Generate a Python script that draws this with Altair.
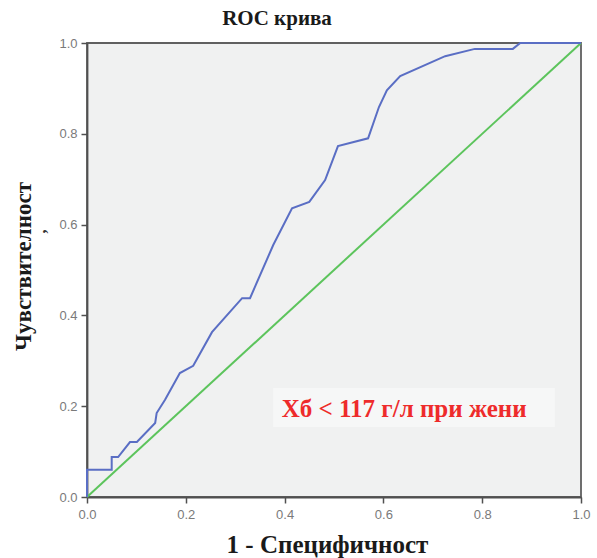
import altair as alt
import pandas as pd

# ROC curve points
fpr = [0.0, 0.0, 0.05, 0.05, 0.063, 0.087, 0.101, 0.138, 0.141, 0.158, 0.188, 0.215,
       0.253, 0.314, 0.330, 0.377, 0.415, 0.450, 0.482, 0.508, 0.569, 0.591, 0.607,
       0.634, 0.725, 0.785, 0.862, 0.877, 1.0]
tpr = [0.0, 0.06, 0.06, 0.088, 0.088, 0.121, 0.121, 0.163, 0.185, 0.214, 0.273, 0.289,
       0.363, 0.438, 0.438, 0.555, 0.636, 0.650, 0.698, 0.773, 0.790, 0.859, 0.896,
       0.927, 0.971, 0.987, 0.987, 1.0, 1.0]
diag_x = [0.0, 1.0]
diag_y = [0.0, 1.0]
ticks = [0.0, 0.2, 0.4, 0.6, 0.8, 1.0]

title_text = "ROC крива"
x_title = "1 - Специфичност"
y_title = "Чувствителност"
note_text = "Хб < 117 г/л при жени"

roc = pd.DataFrame({"x": fpr, "y": tpr, "i": list(range(len(fpr)))})
diag = pd.DataFrame({"x": diag_x, "y": diag_y, "i": [0, 1]})

W, H = 494, 454
SERIF = "Liberation Serif"
SANS = "Liberation Sans"

xs = alt.Scale(domain=[0, 1], nice=False, zero=False)
ys = alt.Scale(domain=[0, 1], nice=False, zero=False)

x_axis = alt.Axis(values=ticks, format=".1f", grid=False, tickSize=6, labelPadding=5,
                  labelFont=SANS, labelFontSize=13, labelColor="#7a7a7a",
                  domainColor="#505050", domainWidth=1.8, tickColor="#505050", tickWidth=1.5,
                  title=x_title, titleFont=SERIF, titleFontSize=25, titleFontWeight="bold",
                  titleColor="#1a1a1a", titleX=240, titleY=55, titleBaseline="alphabetic",
                  titleAlign="center", labelFlush=False)
y_axis = alt.Axis(values=ticks, format=".1f", grid=False, tickSize=6, labelPadding=4,
                  labelFont=SANS, labelFontSize=13, labelColor="#7a7a7a",
                  domainColor="#505050", domainWidth=1.8, tickColor="#505050", tickWidth=1.5,
                  title=y_title, titleFont=SERIF, titleFontSize=23, titleFontWeight="bold",
                  titleColor="#1a1a1a", titleX=-64, titleY=223, titleBaseline="middle",
                  titleAlign="center", titleAngle=270, labelFlush=False)

diag_line = alt.Chart(diag).mark_line(color="#5cc45c", strokeWidth=2).encode(
    x=alt.X("x:Q", scale=xs, axis=x_axis),
    y=alt.Y("y:Q", scale=ys, axis=y_axis),
    order="i:O",
)

roc_line = alt.Chart(roc).mark_line(color="#5a6ec4", strokeWidth=2).encode(
    x=alt.X("x:Q", scale=xs),
    y=alt.Y("y:Q", scale=ys),
    order="i:O",
)

box = alt.Chart(pd.DataFrame({"x": [0.377], "x2": [0.947], "y": [0.240], "y2": [0.154]})).mark_rect(
    fill="#f6f7f7"
).encode(x="x:Q", x2="x2:Q", y="y:Q", y2="y2:Q")

note = alt.Chart(pd.DataFrame({"x": [0.642], "y": [0.194], "t": [note_text]})).mark_text(
    font=SERIF, fontSize=25, fontWeight="bold", color="#ee2b2b", align="center", baseline="middle"
).encode(x="x:Q", y="y:Q", text="t:N")

comma = alt.Chart(pd.DataFrame({"x": [-0.093], "y": [0.585], "t": [","]})).mark_text(
    font=SERIF, fontSize=16, fontWeight="bold", color="#333333", angle=270, baseline="middle"
).encode(x="x:Q", y="y:Q", text="t:N")

title = alt.Chart(pd.DataFrame({"t": [title_text]})).mark_text(
    font=SERIF, fontSize=21, fontWeight="bold", color="#1a1a1a", align="center", baseline="alphabetic"
).encode(x=alt.value(190), y=alt.value(-18), text="t:N")

chart = alt.layer(box, diag_line, roc_line, note, comma, title).properties(
    width=W, height=H,
    autosize=alt.AutoSizeParams(type="none"),
    padding={"left": 87, "top": 43, "right": 16, "bottom": 61},
    background="white",
).configure_view(
    fill="#f0f1f1", stroke="#606060", strokeWidth=1.8
)

chart.save("out.html", embed_options={"renderer": "svg", "actions": False})
